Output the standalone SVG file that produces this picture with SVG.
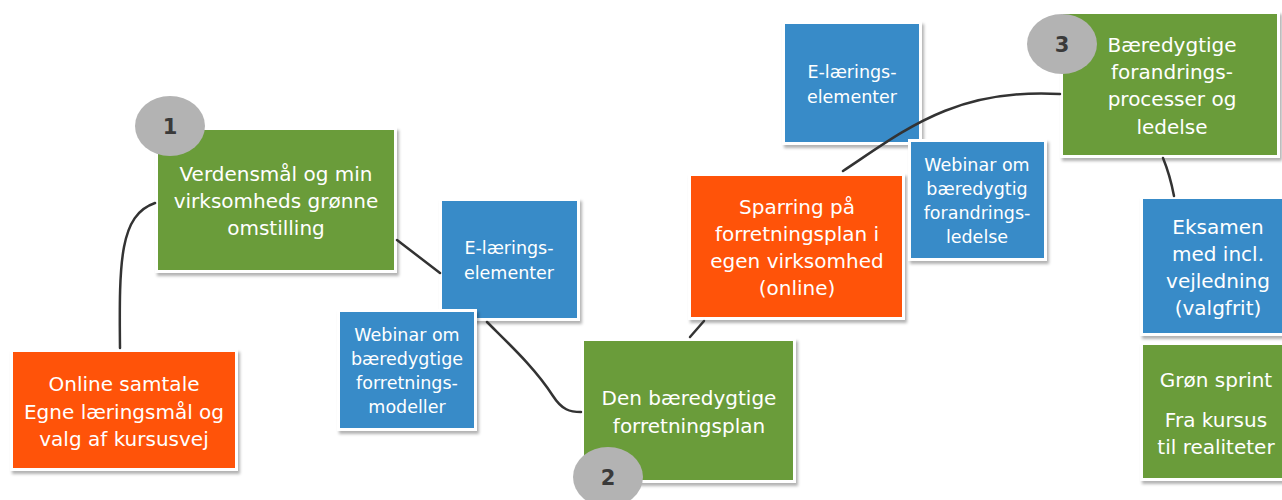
<svg xmlns="http://www.w3.org/2000/svg" width="1282" height="500" viewBox="0 0 1282 500">
<defs>
<filter id="sh" x="-10%" y="-10%" width="130%" height="130%">
<feDropShadow dx="2" dy="3" stdDeviation="1.5" flood-color="#000" flood-opacity="0.3"/>
</filter>
<style>
.frame{fill:#fff;filter:url(#sh)}
.green{fill:#6a9c3a}
.orange{fill:#ff5309}
.blue{fill:#388bc8}
.t{font-family:"DejaVu Sans","Liberation Sans",sans-serif;fill:#fff;text-anchor:middle;font-size:20px}
.ts{font-family:"DejaVu Sans","Liberation Sans",sans-serif;fill:#fff;text-anchor:middle;font-size:17.5px}
.num{fill:#b3b3b3}
.nt{font-family:"DejaVu Sans","Liberation Sans",sans-serif;fill:#3a3a3a;text-anchor:middle;font-size:21px;font-weight:bold}
.con{fill:none;stroke:#333;stroke-width:2.5;stroke-linecap:round}
</style>
</defs>
<rect width="1282" height="500" fill="#fff"/>

<g id="online">
<rect class="frame" x="10" y="349" width="228" height="122"/>
<rect class="orange" x="13" y="352" width="222" height="116"/>
<text class="t" x="124" y="391">Online samtale</text>
<text class="t" x="124" y="419">Egne læringsmål og</text>
<text class="t" x="124" y="446">valg af kursusvej</text>
</g>

<g id="step1">
<rect class="frame" x="155" y="127" width="242" height="146"/>
<rect class="green" x="158" y="130" width="236" height="140"/>
<text class="t" x="276" y="181">Verdensmål og min</text>
<text class="t" x="276" y="208">virksomheds grønne</text>
<text class="t" x="276" y="235">omstilling</text>
<ellipse class="num" cx="170" cy="126" rx="35" ry="30"/>
<text class="nt" x="170" y="134">1</text>
</g>

<g id="elearn1">
<rect class="frame" x="439" y="198" width="141" height="123"/>
<rect class="blue" x="442" y="201" width="135" height="117"/>
<text class="ts" x="509" y="254">E-lærings-</text>
<text class="ts" x="509" y="279">elementer</text>
</g>

<g id="webinar1">
<rect class="frame" x="337" y="309" width="140" height="122"/>
<rect class="blue" x="340" y="312" width="134" height="116"/>
<text class="ts" x="407" y="341">Webinar om</text>
<text class="ts" x="407" y="365">bæredygtige</text>
<text class="ts" x="407" y="389">forretnings-</text>
<text class="ts" x="407" y="413">modeller</text>
</g>

<g id="step2">
<rect class="frame" x="581" y="338" width="215" height="145"/>
<rect class="green" x="584" y="341" width="209" height="139"/>
<text class="t" x="689" y="405">Den bæredygtige</text>
<text class="t" x="689" y="433">forretningsplan</text>
<ellipse class="num" cx="608" cy="477" rx="35" ry="30"/>
<text class="nt" x="608" y="485">2</text>
</g>

<g id="sparring">
<rect class="frame" x="688" y="173" width="217" height="147"/>
<rect class="orange" x="691" y="176" width="211" height="141"/>
<text class="t" x="797" y="214">Sparring på</text>
<text class="t" x="797" y="241">forretningsplan i</text>
<text class="t" x="797" y="268">egen virksomhed</text>
<text class="t" x="797" y="295">(online)</text>
</g>

<g id="elearn2">
<rect class="frame" x="782" y="21" width="140" height="124"/>
<rect class="blue" x="785" y="24" width="134" height="118"/>
<text class="ts" x="852" y="78">E-lærings-</text>
<text class="ts" x="852" y="103">elementer</text>
</g>

<g id="webinar2">
<rect class="frame" x="908" y="139" width="139" height="122"/>
<rect class="blue" x="911" y="142" width="133" height="116"/>
<text class="ts" x="977" y="171">Webinar om</text>
<text class="ts" x="977" y="195">bæredygtig</text>
<text class="ts" x="977" y="219">forandrings-</text>
<text class="ts" x="977" y="243">ledelse</text>
</g>

<g id="step3">
<rect class="frame" x="1060" y="11" width="220" height="147"/>
<rect class="green" x="1063" y="14" width="214" height="141"/>
<text class="t" x="1172" y="52">Bæredygtige</text>
<text class="t" x="1172" y="79">forandrings-</text>
<text class="t" x="1172" y="106">processer og</text>
<text class="t" x="1172" y="134">ledelse</text>
<ellipse class="num" cx="1062" cy="44" rx="35" ry="30"/>
<text class="nt" x="1062" y="52">3</text>
</g>

<g id="eksamen">
<rect class="frame" x="1140" y="196" width="160" height="140"/>
<rect class="blue" x="1143" y="199" width="160" height="134"/>
<text class="t" x="1218" y="234">Eksamen</text>
<text class="t" x="1218" y="261">med incl.</text>
<text class="t" x="1218" y="288">vejledning</text>
<text class="t" x="1218" y="315">(valgfrit)</text>
</g>

<g id="sprint">
<rect class="frame" x="1140" y="342" width="160" height="139"/>
<rect class="green" x="1143" y="345" width="160" height="133"/>
<text class="t" x="1216" y="387">Grøn sprint</text>
<text class="t" x="1216" y="427">Fra kursus</text>
<text class="t" x="1216" y="454">til realiteter</text>
</g>

<g id="connectors">
<path class="con" d="M 120 348 C 119 260 120 215 155 203"/>
<path class="con" d="M 397 240 L 440 273"/>
<path class="con" d="M 487 322 C 510 345 535 368 553 396 C 562 410 570 412 581 412"/>
<path class="con" d="M 690 337 L 704 321"/>
<path class="con" d="M 843 171 C 905 130 955 88 1060 94"/>
<path class="con" d="M 1163 158 Q 1170 175 1174 196"/>
</g>
</svg>
